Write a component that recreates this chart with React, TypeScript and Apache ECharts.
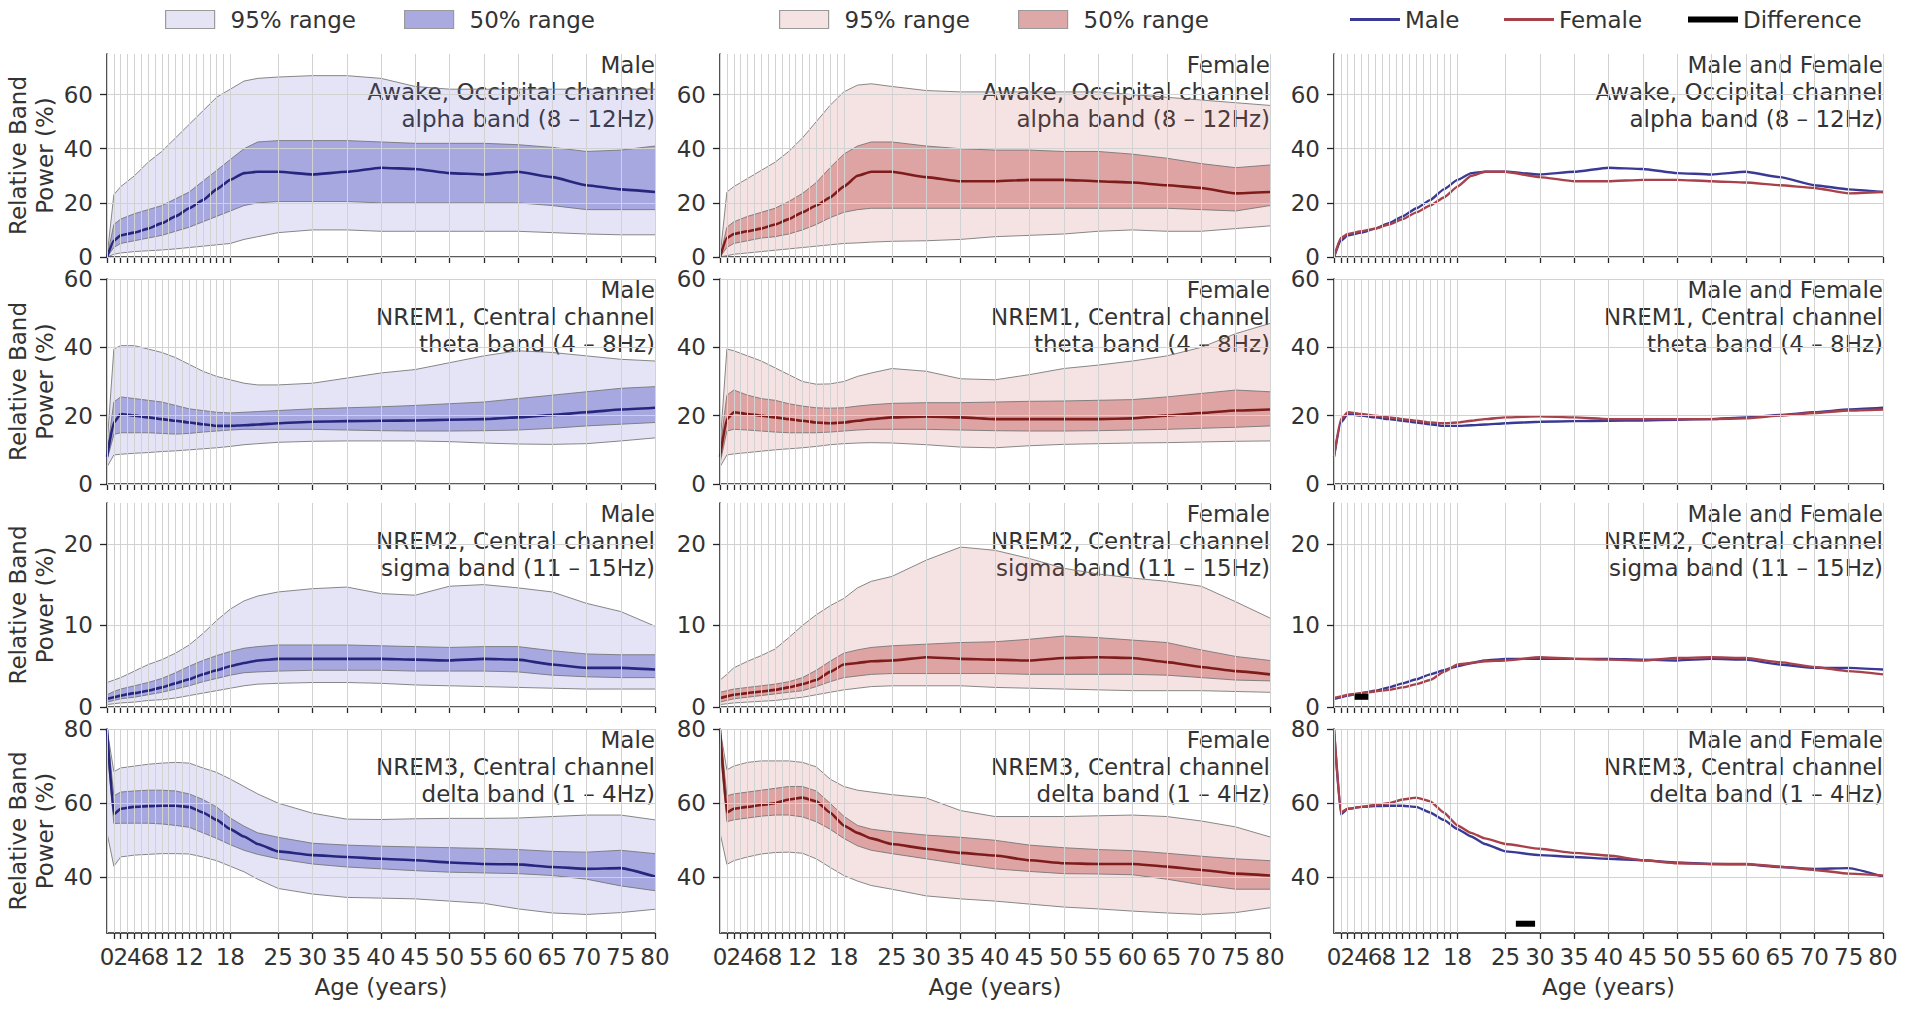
import React, { useEffect, useRef } from 'react';
import * as echarts from 'echarts';

// ---------- data ----------
const AGES = [0, 1, 2, 4, 6, 8, 10, 12, 14, 16, 18, 20, 22, 25, 30, 35, 40, 45, 50, 55, 60, 65, 70, 75, 80];

// Awake, Occipital, alpha
const M_AWAKE_LO95 = [0, 1, 1.5, 2, 2.3, 2.6, 3, 3.5, 4, 4.5, 5, 6.5, 7.5, 9, 10, 10, 9.5, 9.5, 9.5, 9.5, 9.5, 9, 8.5, 8.2, 8.2];
const M_AWAKE_LO50 = [0, 3.5, 5, 6, 7, 8, 9.5, 11, 13, 15, 17, 19, 20, 20.5, 20.5, 20.5, 20, 20, 20, 20, 20, 19, 17.5, 17.5, 17.5];
const M_AWAKE_MED = [0, 6, 8, 9, 10.5, 12.5, 15, 18, 21, 25, 28.5, 31, 31.5, 31.5, 30.5, 31.5, 33, 32.5, 31, 30.5, 31.5, 29.5, 26.5, 25, 24];
const M_AWAKE_HI50 = [0, 12, 14, 16, 17.5, 19, 21.5, 24, 28, 32, 36, 40, 42.5, 43, 43, 43, 42.5, 42, 42, 42, 41.5, 40.5, 39, 39.5, 41];
const M_AWAKE_HI95 = [0, 23, 26, 30, 35, 39, 44, 49, 54, 59, 62, 65, 66, 66.5, 67, 67, 66, 63, 62, 62, 62, 62, 62, 62, 62];

const F_AWAKE_LO95 = [0, 0.5, 1, 1.5, 2, 2.5, 3, 3.5, 4, 4.5, 5, 5.2, 5.5, 5.8, 6, 6.5, 7.5, 8, 8.5, 9.5, 10, 9.5, 9.5, 10.5, 11.5];
const F_AWAKE_LO50 = [0, 3.5, 5, 6, 7, 7.5, 8.5, 10, 12, 14.5, 16.5, 17.5, 18, 18, 18, 18, 18, 18, 18, 18, 18, 18, 17.5, 17, 19];
const F_AWAKE_MED = [0, 7, 8.5, 9.5, 10.5, 12, 14, 16.5, 19, 22, 26, 30, 31.5, 31.5, 29.5, 28, 28, 28.5, 28.5, 28, 27.5, 26.5, 25.5, 23.5, 24];
const F_AWAKE_HI50 = [0, 11, 13, 15, 16.5, 18, 20.5, 23.5, 27.5, 33, 38, 41, 42.5, 42.5, 41, 40, 39.5, 39.5, 39, 39, 38, 36.5, 34.5, 33, 34];
const F_AWAKE_HI95 = [0, 24, 26, 29, 32, 35, 39, 44, 50, 56, 61, 63.5, 64, 63, 61.5, 61, 61, 61, 61, 61, 60, 59, 58, 57, 56];

// NREM1, Central, theta
const M_N1_LO95 = [5, 8.5, 8.7, 9, 9.2, 9.5, 9.7, 10, 10.3, 10.6, 11, 11.5, 11.8, 12.2, 12.5, 12.6, 12.6, 12.6, 12.4, 12, 11.7, 11.6, 11.8, 12.6, 13.5];
const M_N1_LO50 = [7, 14.5, 15, 15, 15, 14.8, 14.6, 14.8, 15.2, 15.5, 15.8, 16, 16, 16, 16, 15.8, 15.6, 15.5, 15.5, 15.6, 15.8, 16.3, 17, 17.5, 18];
const M_N1_MED = [8, 18, 20.5, 20, 19.5, 19, 18.5, 18, 17.5, 17, 17, 17.2, 17.4, 17.8, 18.2, 18.4, 18.5, 18.6, 18.8, 19, 19.5, 20.2, 21, 21.8, 22.3];
const M_N1_HI50 = [9, 24, 25.5, 25, 24.5, 24, 23, 22, 21.5, 21, 20.8, 21, 21.2, 21.5, 22, 22.3, 22.6, 23, 23.5, 24, 25, 26, 27, 28, 28.5];
const M_N1_HI95 = [11, 39.5, 40.5, 40.5, 39.5, 38.5, 37, 35, 33, 31.5, 30.5, 29.5, 29, 29, 29.5, 31, 32.5, 33.5, 35.5, 37.5, 39, 38.5, 37.5, 36.5, 36];

const F_N1_LO95 = [5, 8.5, 8.8, 9.2, 9.6, 10, 10.3, 10.6, 11, 11.5, 11.8, 12, 12.1, 12, 11.5, 10.8, 10.6, 11.2, 11.6, 11.8, 12, 12.1, 12.3, 12.5, 12.6];
const F_N1_LO50 = [6, 15.5, 16, 15.8, 15.5, 15.2, 15, 15, 15, 15.2, 15.5, 15.8, 16, 16, 16, 15.8, 15.6, 15.5, 15.5, 15.6, 15.8, 16, 16.3, 16.6, 17];
const F_N1_MED = [8, 19, 21, 20.5, 20, 19.5, 19, 18.5, 18, 17.8, 18, 18.5, 19, 19.5, 19.8, 19.5, 19, 19, 19, 19, 19.2, 20, 20.8, 21.5, 21.8];
const F_N1_HI50 = [10, 26, 27.5, 26, 25, 24.5, 23.5, 22.8, 22.3, 22.2, 22.3, 22.8, 23.2, 23.6, 23.8, 23.8, 24, 24.2, 24.3, 24.5, 24.7, 25.5, 26.5, 27.5, 27];
const F_N1_HI95 = [11, 39.5, 39, 37.5, 36, 34, 32, 30, 29.2, 29.3, 30, 31.5, 32.5, 33.8, 33, 30.8, 30.5, 32, 33.8, 34.8, 36, 37.5, 40, 44, 47];

// NREM2, Central, sigma
const M_N2_LO95 = [0.3, 0.4, 0.5, 0.6, 0.8, 0.9, 1.1, 1.4, 1.7, 2, 2.3, 2.6, 2.8, 2.9, 3, 3, 2.9, 2.7, 2.6, 2.5, 2.4, 2.3, 2.2, 2.2, 2.2];
const M_N2_LO50 = [0.6, 0.8, 1, 1.2, 1.5, 1.8, 2.2, 2.6, 3.1, 3.5, 3.9, 4.2, 4.3, 4.4, 4.5, 4.5, 4.5, 4.4, 4.4, 4.4, 4.3, 3.9, 3.7, 3.6, 3.6];
const M_N2_MED = [1, 1.2, 1.4, 1.7, 2, 2.4, 2.9, 3.4, 4, 4.5, 5, 5.4, 5.7, 5.9, 5.9, 5.9, 5.9, 5.8, 5.7, 5.9, 5.8, 5.2, 4.8, 4.8, 4.6];
const M_N2_HI50 = [1.5, 1.9, 2.2, 2.6, 3, 3.5, 4.2, 5, 5.7, 6.3, 6.8, 7.2, 7.4, 7.6, 7.6, 7.6, 7.5, 7.4, 7.3, 7.4, 7.4, 6.9, 6.5, 6.4, 6.4];
const M_N2_HI95 = [3, 3.3, 3.6, 4.4, 5.2, 5.8, 6.6, 7.6, 9, 10.6, 12, 13, 13.6, 14.1, 14.5, 14.7, 13.9, 13.7, 14.8, 15, 14.6, 14.1, 12.7, 11.7, 9.9];

const F_N2_LO95 = [0.3, 0.4, 0.5, 0.6, 0.7, 0.8, 1, 1.2, 1.5, 1.8, 2.1, 2.3, 2.5, 2.6, 2.6, 2.6, 2.4, 2.3, 2.2, 2.1, 2, 2, 2, 1.9, 1.8];
const F_N2_LO50 = [0.6, 0.8, 1, 1.2, 1.4, 1.6, 1.8, 2, 2.5, 3.1, 3.6, 3.8, 4, 4.1, 4.1, 4.1, 4.1, 4, 4, 4, 4, 3.9, 3.6, 3.3, 3.2];
const F_N2_MED = [1.1, 1.3, 1.5, 1.7, 1.9, 2.1, 2.4, 2.8, 3.3, 4.3, 5.2, 5.4, 5.6, 5.7, 6.1, 5.9, 5.8, 5.7, 6, 6.1, 6, 5.5, 4.9, 4.4, 4];
const F_N2_HI50 = [1.8, 2, 2.2, 2.4, 2.6, 2.8, 3.1, 3.6, 4.5, 5.6, 6.6, 7, 7.3, 7.5, 7.7, 7.9, 8, 8.3, 8.7, 8.5, 8.2, 7.9, 7, 6.2, 5.7];
const F_N2_HI95 = [3.3, 4, 4.8, 5.6, 6.3, 7.1, 8.5, 10, 11.3, 12.4, 13.3, 14.6, 15.4, 16, 18, 19.6, 19.2, 18.2, 17, 16.3, 15.8, 15.4, 14.8, 12.9, 10.9];

// NREM3, Central, delta
const M_N3_LO95 = [52, 43, 45.5, 46, 46.2, 46.4, 46.4, 46.3, 45.5, 44.5, 43, 41.5, 39.5, 37, 35.5, 34.6, 34.4, 34.2, 33.6, 33, 31.5, 30.4, 30, 30.5, 31.4];
const M_N3_LO50 = [75, 54.5, 54.6, 54.6, 54.6, 54.4, 54, 53.5, 52, 50.5, 48.8, 47.3, 46.2, 45, 43.6, 42.8, 42.3, 41.8, 41.4, 41.2, 41, 40.5, 39.5, 37.7, 36.4];
const M_N3_MED = [80, 57, 58.5, 59, 59.2, 59.3, 59.3, 59, 57.5, 55.5, 53, 51, 49, 47, 46, 45.5, 45, 44.6, 44, 43.6, 43.5, 42.8, 42.3, 42.5, 40.2];
const M_N3_HI50 = [80, 62, 63, 63.3, 63.5, 63.5, 63.3, 62.5, 61, 59, 56, 53.8, 52, 50.8, 49.2, 48.7, 48.4, 48.2, 48, 47.8, 47.5, 47, 46.8, 47.3, 46.4];
const M_N3_HI95 = [80, 68.5, 69.5, 70, 70.5, 70.8, 71, 70.8, 69.5, 68.3, 66.5, 64.5, 62.5, 60, 57.3, 55.7, 55.6, 55.8, 55.9, 55.9, 56, 56.4, 56.8, 56.8, 55.5];

const F_N3_LO95 = [52, 43.5, 44.5, 45.5, 46.3, 46.7, 46.8, 46.5, 45, 42.7, 40.5, 39, 37.8, 36.8, 35, 34.2, 33.6, 32.8, 32, 31.5, 30.9, 30.4, 30, 30.5, 31.8];
const F_N3_LO50 = [75, 55, 55.5, 56, 56.5, 56.8, 56.8, 56.3, 55, 53, 50.5, 48.5, 47.3, 46.4, 45, 43.6, 42.3, 41.6, 41, 40.9, 40.7, 39.5, 38, 36.8, 36.8];
const F_N3_MED = [80, 57.5, 58.5, 59, 59.5, 60, 61, 61.5, 60.5, 57.5, 54, 52, 50.5, 49, 47.7, 46.6, 45.9, 44.6, 43.8, 43.6, 43.6, 42.9, 42, 41, 40.5];
const F_N3_HI50 = [80, 62, 62.5, 63, 63.5, 64, 64.5, 64.5, 63.3, 60, 56.5, 54, 53, 52.3, 51.4, 50.8, 50, 48.7, 48, 47.5, 47.2, 46.5, 45.7, 45, 44.5];
const F_N3_HI95 = [80, 69, 70, 71, 71.4, 71.4, 71.4, 71, 69.8, 66.5, 64.5, 63.5, 63, 62.3, 61.4, 58, 56.4, 56.4, 56.4, 56.6, 56.8, 56.4, 55.2, 53.6, 50.9];

// significant-difference segments (age span, drawn level)
const DIFF_N2_AGES = [3, 5];
const DIFF_N2_LEVEL = 1.25;
const DIFF_N3_AGES = [26.5, 29.3];
const DIFF_N3_LEVEL = 27.5;

// axes
const X_LABELS = [0, 2, 4, 6, 8, 12, 18, 25, 30, 35, 40, 45, 50, 55, 60, 65, 70, 75, 80];
const X_FIRST_LABEL = [0];
const X_GRID = [0, 1, 2, 3, 4, 5, 6, 7, 8, 9, 10, 11, 12, 13, 14, 15, 16, 17, 18, 25, 30, 35, 40, 45, 50, 55, 60, 65, 70, 75, 80];
const Y_MIN = [0, 0, 0, 25];
const Y_MAX = [75, 60, 25, 80];
const Y_TICKS = [[0, 20, 40, 60], [0, 20, 40, 60], [0, 10, 20], [40, 60, 80]];

const ROW_TEXT = [
  ['Awake, Occipital channel', 'alpha band (8 – 12Hz)'],
  ['NREM1, Central channel', 'theta band (4 – 8Hz)'],
  ['NREM2, Central channel', 'sigma band (11 – 15Hz)'],
  ['NREM3, Central channel', 'delta band (1 – 4Hz)'],
];
const COL_HEAD = ['Male', 'Female', 'Male and Female'];

const MALE_ROWS = [
  [M_AWAKE_LO95, M_AWAKE_LO50, M_AWAKE_MED, M_AWAKE_HI50, M_AWAKE_HI95],
  [M_N1_LO95, M_N1_LO50, M_N1_MED, M_N1_HI50, M_N1_HI95],
  [M_N2_LO95, M_N2_LO50, M_N2_MED, M_N2_HI50, M_N2_HI95],
  [M_N3_LO95, M_N3_LO50, M_N3_MED, M_N3_HI50, M_N3_HI95],
];
const FEMALE_ROWS = [
  [F_AWAKE_LO95, F_AWAKE_LO50, F_AWAKE_MED, F_AWAKE_HI50, F_AWAKE_HI95],
  [F_N1_LO95, F_N1_LO50, F_N1_MED, F_N1_HI50, F_N1_HI95],
  [F_N2_LO95, F_N2_LO50, F_N2_MED, F_N2_HI50, F_N2_HI95],
  [F_N3_LO95, F_N3_LO50, F_N3_MED, F_N3_HI50, F_N3_HI95],
];

// ---------- layout & style ----------
const FONT = '"DejaVu Sans", sans-serif';
const FS = 23;
const TXT = '#333333';
const COL_LEFT = [107, 720, 1334];
const COL_W = [548, 550, 549];
const ROW_TOP = [54, 279, 503, 729];
const ROW_H = [203, 205, 204, 204];
const AXIS_C = '#262626';
const GRID_C = '#d2d2d2';
const EDGE = 'rgba(115,115,115,0.85)';

const STYLE = [
  { fill95: 'rgba(107,107,204,0.18)', fill50: 'rgba(107,107,204,0.5)', med: '#26267e', leg95: '#e4e4f5', leg50: '#aaaae0', n95: 'M95', n50: 'M50' },
  { fill95: 'rgba(200,100,100,0.18)', fill50: 'rgba(200,100,100,0.5)', med: '#7e1c1c', leg95: '#f5e3e3', leg50: '#dfa8a8', n95: 'F95', n50: 'F50' },
];
const MALE_LINE = '#3a3a96';
const FEMALE_LINE = '#a8414a';

const pts = (ys: number[]) => AGES.map((a, i) => [a, ys[i]]);

function bandSeries(idx: number, name: string, lo: number[], hi: number[], fill: string, z: number) {
  return {
    type: 'custom', name, xAxisIndex: idx, yAxisIndex: idx, silent: true, z, clip: true,
    data: AGES.map((a, i) => [a, lo[i], hi[i]]),
    encode: { x: 0, y: [1, 2] },
    renderItem: (params: any, api: any) => {
      if (params.dataIndex !== 0) return { type: 'group', children: [] };
      const upper = AGES.map((a, i) => api.coord([a, hi[i]]));
      const lower = AGES.map((a, i) => api.coord([a, lo[i]]));
      return {
        type: 'group',
        children: [
          { type: 'polygon', shape: { points: [...upper, ...lower.slice().reverse()] }, style: { fill, stroke: null } },
          { type: 'polyline', shape: { points: upper }, style: { fill: null, stroke: EDGE, lineWidth: 1 } },
          { type: 'polyline', shape: { points: lower }, style: { fill: null, stroke: EDGE, lineWidth: 1 } },
        ],
      };
    },
  };
}

function buildOption() {
  const grid: any[] = [];
  const xAxis: any[] = [];
  const yAxis: any[] = [];
  const series: any[] = [];
  const graphic: any[] = [];
  const extraX: any[] = [];

  const labelStyle = { fontSize: FS, color: TXT, fontFamily: FONT, margin: 12 };

  for (let r = 0; r < 4; r++) {
    for (let c = 0; c < 3; c++) {
      const idx = r * 3 + c;
      grid.push({ left: COL_LEFT[c], top: ROW_TOP[r], width: COL_W[c], height: ROW_H[r], containLabel: false });
      xAxis.push({
        type: 'value', gridIndex: idx, min: 0, max: 80, position: 'bottom',
        axisLine: { show: true, onZero: false, lineStyle: { color: AXIS_C, width: 1.6 } },
        axisTick: { show: true, length: 6, customValues: X_GRID, lineStyle: { color: AXIS_C, width: 1.3 } },
        axisLabel: { show: r === 3, customValues: X_LABELS, showMinLabel: false, showMaxLabel: true, ...labelStyle },
        splitLine: { show: false },
        name: r === 3 ? 'Age (years)' : '',
        nameLocation: 'middle', nameGap: 42,
        nameTextStyle: { fontSize: FS, color: TXT, fontFamily: FONT },
      });
      if (r === 3) {
        // separate axis carrying only the "0" label so it is not dropped by overlap handling
        extraX.push({
          type: 'value', gridIndex: idx, min: 0, max: 80, position: 'bottom',
          axisLine: { show: false, onZero: false }, axisTick: { show: false },
          axisLabel: { show: true, customValues: X_FIRST_LABEL, showMinLabel: true, ...labelStyle },
          splitLine: { show: false },
        });
      }
      yAxis.push({
        type: 'value', gridIndex: idx, min: Y_MIN[r], max: Y_MAX[r],
        axisLine: { show: true, lineStyle: { color: AXIS_C, width: 1.6 } },
        axisTick: { show: true, length: 7, customValues: Y_TICKS[r], lineStyle: { color: AXIS_C, width: 1.3 } },
        axisLabel: { show: true, customValues: Y_TICKS[r], fontSize: FS, lineHeight: 14, color: TXT, fontFamily: FONT, margin: 14 },
        splitLine: { show: false },
        name: c === 0 ? 'Relative Band\nPower (%)' : '',
        nameLocation: 'middle', nameRotate: 90, nameGap: 49,
        nameTextStyle: { fontSize: FS, color: TXT, fontFamily: FONT, lineHeight: 27 },
      });

      // gridlines
      series.push({
        type: 'line', name: `grid-${idx}`, xAxisIndex: idx, yAxisIndex: idx, data: [], z: 1, silent: true,
        markLine: {
          silent: true, symbol: ['none', 'none'], label: { show: false }, animation: false,
          lineStyle: { color: GRID_C, width: 1, type: 'solid' },
          emphasis: { disabled: true },
          data: [...X_GRID.map((v) => ({ xAxis: v })), ...Y_TICKS[r].map((v) => ({ yAxis: v }))],
        },
      });

      // panel text
      graphic.push({
        type: 'text', x: COL_LEFT[c] + COL_W[c], y: ROW_TOP[r] - 3, z: 1, silent: true,
        style: {
          text: [COL_HEAD[c], ...ROW_TEXT[r]].join('\n'),
          font: `${FS}px ${FONT}`, fill: TXT, align: 'right', textAlign: 'right',
          verticalAlign: 'top', textVerticalAlign: 'top', lineHeight: 27,
        },
      });

      const lineCommon = { type: 'line', xAxisIndex: idx, yAxisIndex: idx, showSymbol: false, symbol: 'none', smooth: 0.15, smoothMonotone: 'x', silent: true };
      if (c < 2) {
        const d = c === 0 ? MALE_ROWS[r] : FEMALE_ROWS[r];
        const st = STYLE[c];
        const [lo95, lo50, med, hi50, hi95] = d;
        series.push(bandSeries(idx, st.n95, lo95, hi95, st.fill95, 2));
        series.push(bandSeries(idx, st.n50, lo50, hi50, st.fill50, 3));
        series.push({ ...lineCommon, name: `med-${idx}`, data: pts(med), lineStyle: { color: st.med, width: 2.6 }, z: 4 });
      } else {
        series.push({ ...lineCommon, name: 'Male', data: pts(MALE_ROWS[r][2]), lineStyle: { color: MALE_LINE, width: 2.4 }, itemStyle: { color: MALE_LINE }, z: 4 });
        series.push({ ...lineCommon, name: 'Female', data: pts(FEMALE_ROWS[r][2]), lineStyle: { color: FEMALE_LINE, width: 2.4 }, itemStyle: { color: FEMALE_LINE }, z: 4 });
        if (r === 2 || r === 3) {
          const ages = r === 2 ? DIFF_N2_AGES : DIFF_N3_AGES;
          const lvl = r === 2 ? DIFF_N2_LEVEL : DIFF_N3_LEVEL;
          series.push({ ...lineCommon, smooth: false, name: 'Difference', data: ages.map((a) => [a, lvl]), lineStyle: { color: '#000', width: 6, cap: 'butt' }, itemStyle: { color: '#000' }, z: 5 });
        }
      }
    }
  }
  xAxis.push(...extraX);

  const legBase = { top: 8, padding: 0, selectedMode: false, orient: 'horizontal', textStyle: { fontSize: FS, color: TXT, fontFamily: FONT, padding: [0, 0, 0, 11] } };
  const areaLeg = (left: number, name: string, color: string, label: string) => ({
    ...legBase, left, itemWidth: 49, itemHeight: 18,
    data: [{ name, icon: 'rect', itemStyle: { color, borderColor: '#9a9a9a', borderWidth: 1.2 } }],
    formatter: () => label,
  });
  const lineLeg = (left: number, name: string, color: string, h: number) => ({
    ...legBase, left, itemWidth: 50, itemHeight: h,
    textStyle: { ...legBase.textStyle, padding: [0, 0, 0, 0] },
    data: [{ name, icon: 'rect', itemStyle: { color, borderWidth: 0 } }],
  });
  const legend = [
    areaLeg(165, 'M95', STYLE[0].leg95, '95% range'),
    areaLeg(404, 'M50', STYLE[0].leg50, '50% range'),
    areaLeg(779, 'F95', STYLE[1].leg95, '95% range'),
    areaLeg(1018, 'F50', STYLE[1].leg50, '50% range'),
    lineLeg(1350, 'Male', MALE_LINE, 3),
    lineLeg(1504, 'Female', FEMALE_LINE, 3),
    lineLeg(1688, 'Difference', '#000', 6),
  ];

  return {
    animation: false,
    backgroundColor: '#ffffff',
    textStyle: { fontFamily: FONT },
    grid, xAxis, yAxis, series, legend, graphic,
  };
}

export default function App() {
  const ref = useRef<HTMLDivElement>(null);
  useEffect(() => {
    if (!ref.current) return;
    const chart = echarts.init(ref.current, null, { renderer: 'svg' });
    chart.setOption(buildOption() as any);
    return () => chart.dispose();
  }, []);
  return (
    <div
      ref={ref}
      style={{ position: 'fixed', left: 0, top: 0, width: 1908, height: 1009, background: '#fff' }}
    />
  );
}
